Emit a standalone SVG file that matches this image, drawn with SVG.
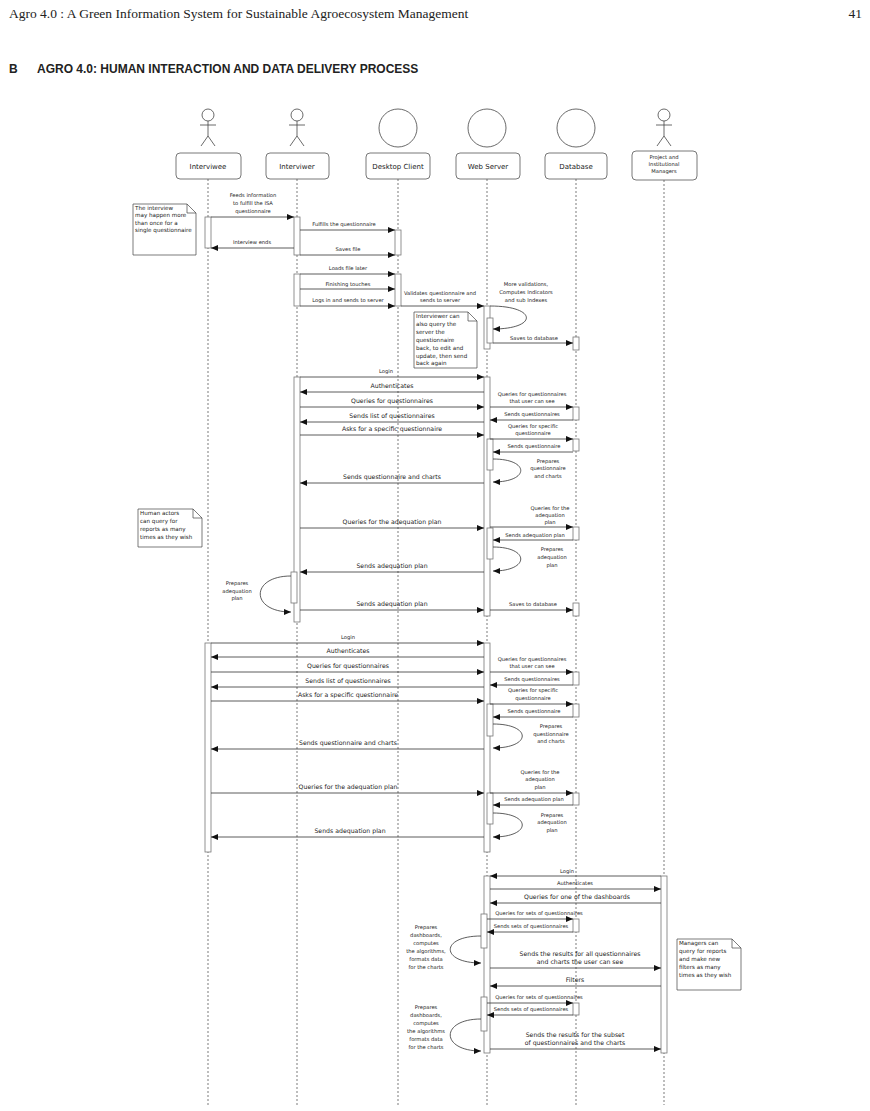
<svg xmlns="http://www.w3.org/2000/svg" width="870" height="1111" viewBox="0 0 870 1111">
<style>
.hd{font-family:"Liberation Serif",serif;font-size:13.5px;fill:#222}
.sec{font-family:"Liberation Sans",sans-serif;font-size:12px;font-weight:bold;fill:#222}
.box{fill:#fff;stroke:#555;stroke-width:0.8}
.nm{font-family:"DejaVu Sans",sans-serif;font-size:7px;fill:#222;text-anchor:middle}
.life{stroke:#444;stroke-width:0.7;stroke-dasharray:2,2}
.act{fill:#fff;stroke:#777;stroke-width:0.8}
.m{stroke:#333;stroke-width:0.8;fill:none;marker-end:url(#ah)}
.t{font-family:"DejaVu Sans",sans-serif;font-size:6.2px;fill:#222;text-anchor:middle}
.s{font-family:"DejaVu Sans",sans-serif;font-size:5.2px;fill:#222;text-anchor:middle}
.n{font-family:"DejaVu Sans",sans-serif;font-size:5.6px;fill:#222}
.note{fill:#fff;stroke:#444;stroke-width:0.7}
</style>
<defs><marker id="ah" markerWidth="8" markerHeight="6" refX="7" refY="3" orient="auto" markerUnits="userSpaceOnUse"><path d="M0,0 L7,3 L0,6 z" fill="#111"/></marker></defs>
<rect width="870" height="1111" fill="#fff"/>
<text class="hd" x="9" y="18">Agro 4.0 : A Green Information System for Sustainable Agroecosystem Management</text>
<text class="hd" x="862" y="18" text-anchor="end">41</text>
<text class="sec" x="9" y="73">B</text>
<text class="sec" x="37" y="73">AGRO 4.0: HUMAN INTERACTION AND DATA DELIVERY PROCESS</text>

<g id="lifelines">
<line class="life" x1="208" y1="179" x2="208" y2="1105"/>
<line class="life" x1="297" y1="179" x2="297" y2="1105"/>
<line class="life" x1="398" y1="179" x2="398" y2="1105"/>
<line class="life" x1="487" y1="179" x2="487" y2="1105"/>
<line class="life" x1="576" y1="179" x2="576" y2="1105"/>
<line class="life" x1="664" y1="180" x2="664" y2="1105"/>
</g>
<g id="interviwee" fill="none" stroke="#444" stroke-width="0.8">
<circle cx="208" cy="115" r="6"/><path d="M208,121 V136 M200,125 H216 M208,136 L201,146 M208,136 L215,146"/>
<rect class="box" x="176" y="153" width="65" height="26" rx="4"/><text class="nm" x="208" y="169" stroke="none">Interviwee</text></g>
<g id="interviwer" fill="none" stroke="#444" stroke-width="0.8">
<circle cx="297" cy="115" r="6"/><path d="M297,121 V136 M289,125 H305 M297,136 L290,146 M297,136 L304,146"/>
<rect class="box" x="266" y="153" width="63" height="26" rx="4"/><text class="nm" x="297" y="169" stroke="none">Interviwer</text></g>
<g id="desktop"><circle cx="398" cy="128" r="19" fill="#fff" stroke="#444" stroke-width="0.8"/><rect class="box" x="366" y="153" width="64" height="26" rx="4"/><text class="nm" x="398" y="169">Desktop Client</text></g>
<g id="webserver"><circle cx="487" cy="128" r="19" fill="#fff" stroke="#444" stroke-width="0.8"/><rect class="box" x="456" y="153" width="64" height="26" rx="4"/><text class="nm" x="488" y="169">Web Server</text></g>
<g id="database"><circle cx="576" cy="128" r="19" fill="#fff" stroke="#444" stroke-width="0.8"/><rect class="box" x="545" y="153" width="62" height="26" rx="4"/><text class="nm" x="576" y="169">Database</text></g>
<g id="managers" fill="none" stroke="#444" stroke-width="0.8">
<circle cx="664" cy="115" r="6"/><path d="M664,121 V136 M656,125 H672 M664,136 L657,146 M664,136 L671,146"/>
<rect class="box" x="632" y="151" width="65" height="29" rx="4"/><g stroke="none"><text class="s" x="664" y="159">Project and</text><text class="s" x="664" y="166">Institutional</text><text class="s" x="664" y="173">Managers</text></g></g>

<g id="notes">
<path class="note" d="M133,204 H187 L196,213 V255 H133 Z M187,204 V213 H196"/>
<text class="n" x="135" y="210">The interview</text><text class="n" x="135" y="217">may happen more</text><text class="n" x="135" y="225">than once for a</text><text class="n" x="135" y="232">single questionnaire</text>
<path class="note" d="M414,312 H468 L477,321 V368 H414 Z M468,312 V321 H477"/>
<text class="n" x="416" y="318">Interviewer can</text><text class="n" x="416" y="326">also query the</text><text class="n" x="416" y="334">server the</text><text class="n" x="416" y="342">questionnaire</text><text class="n" x="416" y="350">back, to edit and</text><text class="n" x="416" y="358">update, then send</text><text class="n" x="416" y="365">back again</text>
<path class="note" d="M138,509 H193 L202,518 V547 H138 Z M193,509 V518 H202"/>
<text class="n" x="140" y="515">Human actors</text><text class="n" x="140" y="523">can query for</text><text class="n" x="140" y="531">reports as many</text><text class="n" x="140" y="539">times as they wish</text>
<path class="note" d="M677,939 H732 L741,948 V990 H677 Z M732,939 V948 H741"/>
<text class="n" x="679" y="945">Managers can</text><text class="n" x="679" y="953">query for reports</text><text class="n" x="679" y="961">and make new</text><text class="n" x="679" y="969">filters as many</text><text class="n" x="679" y="977">times as they wish</text>
</g>

<g id="activations">
<rect class="act" x="205" y="217" width="6" height="31"/>
<rect class="act" x="294" y="217" width="6" height="38"/>
<rect class="act" x="395" y="230" width="6" height="25"/>
<rect class="act" x="294" y="274" width="6" height="32"/>
<rect class="act" x="395" y="274" width="6" height="32"/>
<rect class="act" x="484" y="306" width="6" height="43"/>
<rect class="act" x="487" y="318" width="6" height="25"/>
<rect class="act" x="573" y="337" width="6" height="13"/>
<rect class="act" x="294" y="377" width="6" height="245"/>
<rect class="act" x="484" y="377" width="6" height="239"/>
<rect class="act" x="573" y="407" width="6" height="13"/>
<rect class="act" x="573" y="439" width="6" height="12"/>
<rect class="act" x="487" y="439" width="6" height="31"/>
<rect class="act" x="573" y="527" width="6" height="13"/>
<rect class="act" x="487" y="528" width="6" height="31"/>
<rect class="act" x="291" y="572" width="6" height="31"/>
<rect class="act" x="573" y="603" width="6" height="13"/>
<rect class="act" x="205" y="643" width="6" height="209"/>
<rect class="act" x="484" y="643" width="6" height="209"/>
<rect class="act" x="573" y="672" width="6" height="13"/>
<rect class="act" x="573" y="704" width="6" height="13"/>
<rect class="act" x="487" y="704" width="6" height="32"/>
<rect class="act" x="573" y="793" width="6" height="12"/>
<rect class="act" x="487" y="793" width="6" height="31"/>
<rect class="act" x="661" y="876" width="6" height="177"/>
<rect class="act" x="484" y="876" width="6" height="177"/>
<rect class="act" x="481" y="914" width="6" height="34"/>
<rect class="act" x="573" y="919" width="6" height="13"/>
<rect class="act" x="481" y="997" width="6" height="34"/>
<rect class="act" x="573" y="1003" width="6" height="12"/>
</g>

<g id="connectors">
<path class="m" d="M211,217 H294"/><text class="s" x="253" y="197">Feeds information</text><text class="s" x="253" y="205">to fulfill the ISA</text><text class="s" x="253" y="213">questionnaire</text>
<path class="m" d="M300,230 H395"/><text class="s" x="344" y="226">Fulfills the questionnaire</text>
<path class="m" d="M294,248 H211"/><text class="s" x="252" y="244">Interview ends</text>
<path class="m" d="M300,255 H395"/><text class="s" x="348" y="251">Saves file</text>
<path class="m" d="M300,274 H395"/><text class="s" x="348" y="270">Loads file later</text>
<path class="m" d="M300,289 H395"/><text class="s" x="348" y="286">Finishing touches</text>
<path class="m" d="M300,306 H395"/><text class="s" x="348" y="302">Logs in and sends to server</text>
<path class="m" d="M401,306 H484"/><text class="s" x="440" y="295">Validates questionnaire and</text><text class="s" x="440" y="302">sends to server</text>
<path class="m" d="M490,306 C538,306 538,329 493,329"/><text class="s" x="526" y="286">More validations,</text><text class="s" x="526" y="294">Computes Indicators</text><text class="s" x="526" y="302">and sub Indexes</text>
<path class="m" d="M493,343 H573"/><text class="s" x="534" y="340">Saves to database</text>

<path class="m" d="M300,377 H484"/><text class="s" x="386" y="373">Login</text>
<path class="m" d="M484,392 H300"/><text class="t" x="392" y="388">Authenticates</text>
<path class="m" d="M300,407 H484"/><text class="t" x="392" y="403">Queries for questionnaires</text>
<path class="m" d="M490,407 H573"/><text class="s" x="532" y="396">Queries for questionnaires</text><text class="s" x="532" y="403">that user can see</text>
<path class="m" d="M484,422 H300"/><text class="t" x="392" y="418">Sends list of questionnaires</text>
<path class="m" d="M573,420 H490"/><text class="s" x="532" y="416">Sends questionnaires</text>
<path class="m" d="M300,435 H484"/><text class="t" x="392" y="431">Asks for a specific questionnaire</text>
<path class="m" d="M490,439 H573"/><text class="s" x="533" y="428">Queries for specific</text><text class="s" x="533" y="435">questionnaire</text>
<path class="m" d="M573,452 H493"/><text class="s" x="534" y="448">Sends questionnaire</text>
<path class="m" d="M493,459 C530,459 530,482 493,482"/><text class="s" x="548" y="463">Prepares</text><text class="s" x="548" y="470">questionnaire</text><text class="s" x="548" y="478">and charts</text>
<path class="m" d="M484,483 H300"/><text class="t" x="392" y="479">Sends questionnaire and charts</text>
<path class="m" d="M300,528 H484"/><text class="t" x="392" y="524">Queries for the adequation plan</text>
<path class="m" d="M490,527 H573"/><text class="s" x="550" y="510">Queries for the</text><text class="s" x="550" y="517">adequation</text><text class="s" x="550" y="524">plan</text>
<path class="m" d="M573,540 H493"/><text class="s" x="535" y="537">Sends  adequation plan</text>
<path class="m" d="M493,547 C530,547 530,571 493,571"/><text class="s" x="552" y="551">Prepares</text><text class="s" x="552" y="559">adequation</text><text class="s" x="552" y="567">plan</text>
<path class="m" d="M484,572 H300"/><text class="t" x="392" y="568">Sends adequation plan</text>
<path class="m" d="M291,576 C250,576 250,612 291,612"/><text class="s" x="237" y="585">Prepares</text><text class="s" x="237" y="593">adequation</text><text class="s" x="237" y="600">plan</text>
<path class="m" d="M300,610 H484"/><text class="t" x="392" y="606">Sends adequation plan</text>
<path class="m" d="M490,610 H573"/><text class="s" x="533" y="606">Saves to database</text>

<path class="m" d="M211,643 H484"/><text class="s" x="348" y="639">Login</text>
<path class="m" d="M484,657 H211"/><text class="t" x="348" y="653">Authenticates</text>
<path class="m" d="M211,672 H484"/><text class="t" x="348" y="668">Queries for questionnaires</text>
<path class="m" d="M490,672 H573"/><text class="s" x="532" y="661">Queries for questionnaires</text><text class="s" x="532" y="668">that user can see</text>
<path class="m" d="M484,687 H211"/><text class="t" x="348" y="683">Sends list of questionnaires</text>
<path class="m" d="M573,685 H490"/><text class="s" x="532" y="681">Sends questionnaires</text>
<path class="m" d="M211,701 H484"/><text class="t" x="348" y="697">Asks for a specific questionnaire</text>
<path class="m" d="M490,704 H573"/><text class="s" x="533" y="692">Queries for specific</text><text class="s" x="533" y="700">questionnaire</text>
<path class="m" d="M573,717 H493"/><text class="s" x="534" y="713">Sends questionnaire</text>
<path class="m" d="M493,724 C532,724 532,748 493,748"/><text class="s" x="551" y="728">Prepares</text><text class="s" x="551" y="736">questionnaire</text><text class="s" x="551" y="743">and charts</text>
<path class="m" d="M484,749 H211"/><text class="t" x="348" y="745">Sends questionnaire and charts</text>
<path class="m" d="M211,793 H484"/><text class="t" x="348" y="789">Queries for the adequation plan</text>
<path class="m" d="M490,793 H573"/><text class="s" x="540" y="774">Queries for the</text><text class="s" x="540" y="781">adequation</text><text class="s" x="540" y="789">plan</text>
<path class="m" d="M573,805 H493"/><text class="s" x="534" y="801">Sends  adequation plan</text>
<path class="m" d="M493,813 C532,813 532,837 493,837"/><text class="s" x="552" y="817">Prepares</text><text class="s" x="552" y="824">adequation</text><text class="s" x="552" y="832">plan</text>
<path class="m" d="M484,837 H211"/><text class="t" x="350" y="833">Sends adequation plan</text>

<path class="m" d="M661,876 H490"/><text class="s" x="567" y="873">Login</text>
<path class="m" d="M490,889 H661"/><text class="s" x="575" y="885">Authenticates</text>
<path class="m" d="M661,903 H490"/><text class="t" x="577" y="899">Queries for one of the dashboards</text>
<path class="m" d="M487,919 H573"/><text class="s" x="539" y="915">Queries for sets of questionnaires</text>
<path class="m" d="M573,932 H487"/><text class="s" x="531" y="928">Sends  sets of questionnaires</text>
<path class="m" d="M481,936 C440,936 440,963 481,963"/><text class="s" x="426" y="929">Prepares</text><text class="s" x="426" y="937">dashboards,</text><text class="s" x="426" y="945">computes</text><text class="s" x="426" y="953">the algorithms,</text><text class="s" x="426" y="961">formats data</text><text class="s" x="426" y="969">for the charts</text>
<path class="m" d="M490,968 H661"/><text class="t" x="580" y="956">Sends the results for all questionnaires</text><text class="t" x="580" y="964">and charts the user can see</text>
<path class="m" d="M661,986 H490"/><text class="t" x="575" y="982">Filters</text>
<path class="m" d="M487,1003 H573"/><text class="s" x="539" y="999">Queries for sets of questionnaires</text>
<path class="m" d="M573,1015 H487"/><text class="s" x="531" y="1011">Sends  sets of questionnaires</text>
<path class="m" d="M481,1019 C440,1019 440,1051 481,1051"/><text class="s" x="426" y="1009">Prepares</text><text class="s" x="426" y="1017">dashboards,</text><text class="s" x="426" y="1025">computes</text><text class="s" x="426" y="1033">the algorithms</text><text class="s" x="426" y="1041">formats data</text><text class="s" x="426" y="1049">for the charts</text>
<path class="m" d="M490,1049 H661"/><text class="t" x="575" y="1037">Sends the results for the subset</text><text class="t" x="575" y="1045">of questionnaires and the charts</text>
</g>
</svg>
